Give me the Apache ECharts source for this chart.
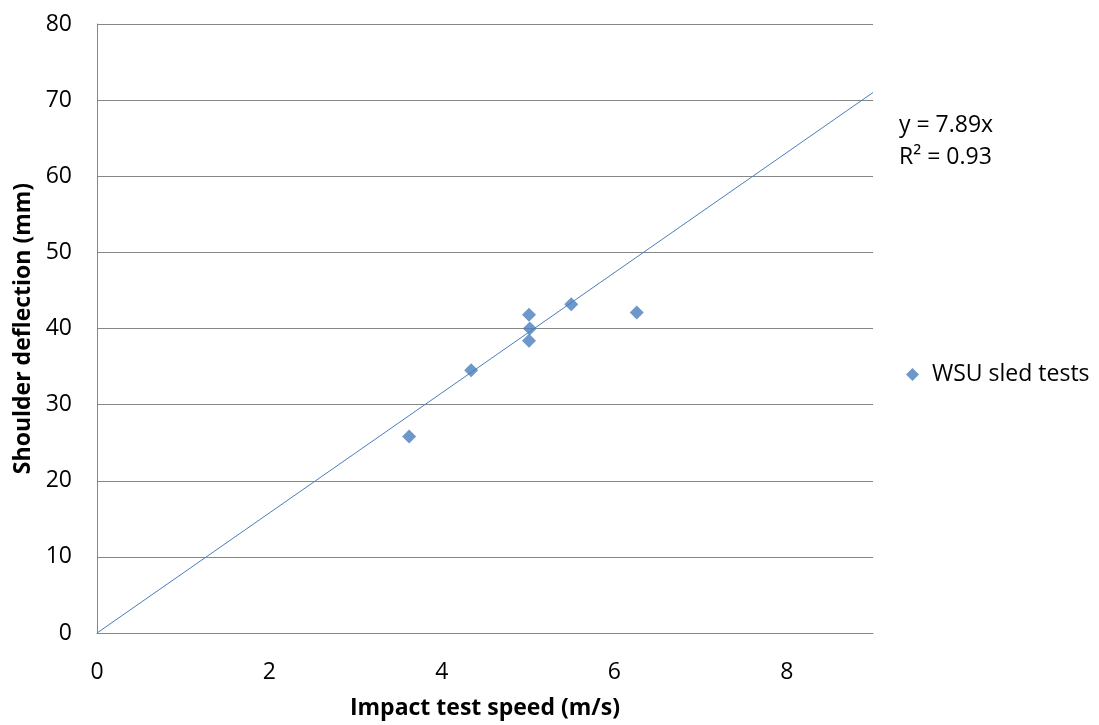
<!DOCTYPE html>
<html>
<head>
<meta charset="utf-8">
<script src="https://cdn.jsdelivr.net/npm/echarts@6/dist/echarts.min.js"></script>
<style>
  html, body { margin: 0; padding: 0; background: #fff; }
  #chart { width: 1099px; height: 725px; }
</style>
</head>
<body>
<div id="chart"></div>
<script>
// WSU sled tests
var speed = [3.62, 4.34, 5.01, 5.02, 5.01, 5.50, 6.26]
var deflection = [25.8, 34.5, 41.8, 40.0, 38.4, 43.2, 42.1]
// linear trend y = 7.89x, end points
var trendX = [0, 9]
var trendY = [0, 71.0]
var xTicks = [0, 2, 4, 6, 8]

var font = 'Open Sans'
var blue = '#4a7ebb'

var points = speed.map(function (x, i) { return [x, deflection[i]] })
var trend = trendX.map(function (x, i) { return [x, trendY[i]] })

var myChart = echarts.init(document.getElementById('chart'))
var option = {
  animation: false,
  grid: { left: 97, right: 226, top: 24, bottom: 90 },
  legend: {
    data: ['WSU sled tests'],
    left: 901, top: 358,
    itemWidth: 13, itemHeight: 13,
    textStyle: { fontFamily: font, fontSize: 23, color: '#000', padding: [0, 0, 0, 8] }
  },
  xAxis: {
    type: 'value', min: 0, max: 9, interval: 2,
    name: 'Impact test speed (m/s)',
    nameLocation: 'middle', nameGap: 64,
    nameTextStyle: { fontFamily: font, fontSize: 23, fontWeight: 'bold', color: '#000' },
    axisLine: { lineStyle: { color: '#868686' } },
    axisTick: { show: false },
    splitLine: { show: false },
    axisLabel: {
      fontFamily: font, fontSize: 23, color: '#000', margin: 28,
      formatter: function (v) { return xTicks.indexOf(v) >= 0 ? String(v) : '' }
    }
  },
  yAxis: {
    type: 'value', min: 0, max: 80, interval: 10,
    name: 'Shoulder deflection (mm)',
    nameLocation: 'middle', nameGap: 58,
    nameTextStyle: { fontFamily: font, fontSize: 23, fontWeight: 'bold', color: '#000' },
    axisLine: { show: true, lineStyle: { color: '#868686' } },
    axisTick: { show: false },
    splitLine: { lineStyle: { color: '#868686' } },
    axisLabel: { fontFamily: font, fontSize: 23, color: '#000', margin: 25 }
  },
  graphic: [
    { type: 'text', left: 899, top: 114, style: { text: 'y = 7.89x', font: '23px "Open Sans"', fill: '#000' } },
    { type: 'text', left: 899, top: 146, style: { text: 'R² = 0.93', font: '23px "Open Sans"', fill: '#000' } }
  ],
  series: [
    {
      name: 'WSU sled tests',
      type: 'scatter',
      symbol: 'diamond',
      symbolSize: 14,
      itemStyle: { color: blue },
      data: points,
      z: 3
    },
    {
      name: 'trend',
      type: 'line',
      data: trend,
      showSymbol: false,
      lineStyle: { color: blue, width: 1 },
      z: 2
    }
  ]
}
myChart.setOption(option)
</script>
</body>
</html>
